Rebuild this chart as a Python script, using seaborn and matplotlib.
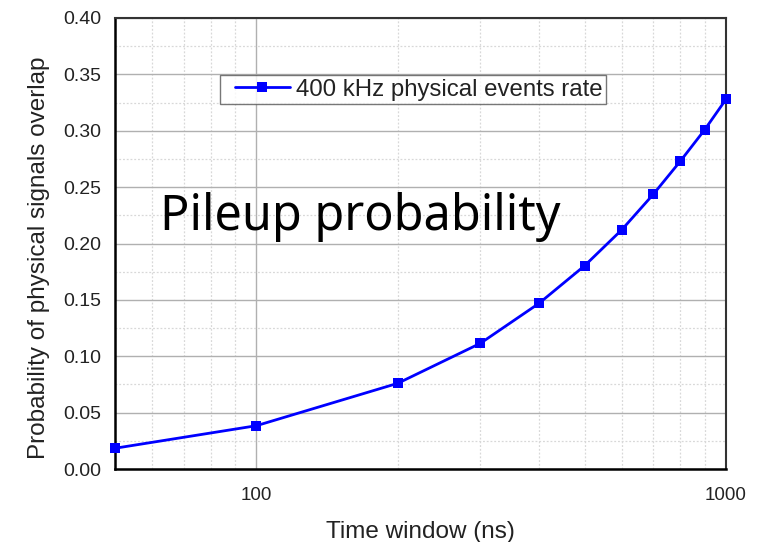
import matplotlib
matplotlib.use("Agg")
import matplotlib.pyplot as plt
import seaborn as sns
import pandas as pd
from matplotlib.ticker import FixedLocator, NullFormatter, MultipleLocator, FuncFormatter
from matplotlib.legend_handler import HandlerLine2D
from matplotlib.lines import Line2D

time_window_ns = [50, 100, 200, 300, 400, 500, 600, 700, 800, 900, 1000]
pileup_prob = [0.0184, 0.0384, 0.0760, 0.1115, 0.1470, 0.1803, 0.2122, 0.2436, 0.2732, 0.3007, 0.3279]
series_label = "400 kHz physical events rate"
x_label = "Time window (ns)"
y_label = "Probability of physical signals overlap"
annotation = "Pileup probability"
x_major_ticks = [100, 1000]
x_minor_ticks = [50, 60, 70, 80, 90, 200, 300, 400, 500, 600, 700, 800, 900]


class PaddedLineHandler(HandlerLine2D):
    """Line handle with a blank gap at its left end, like the Origin legend."""
    def __init__(self, left_pad_px=11.0, **kw):
        super().__init__(**kw)
        self.left_pad_px = left_pad_px

    def get_xdata(self, legend, xdescent, ydescent, width, height, fontsize):
        pad = self.left_pad_px * 72.0 / legend.figure.dpi
        x0 = -xdescent + pad
        x1 = -xdescent + width
        return [x0, x1], [0.5 * (x0 + x1)]


sns.set_style("white")
plt.rcParams['font.family'] = ['Liberation Sans', 'DejaVu Sans']

df = pd.DataFrame({"t": time_window_ns, "p": pileup_prob})

fig = plt.figure(figsize=(7.69, 5.42), dpi=100)
ax = fig.add_axes([115/769, 73/542, 611/769, 451/542])

sns.lineplot(data=df, x="t", y="p", ax=ax, color="#0000ff", marker="s",
             markersize=6.5, markeredgewidth=0, linewidth=2, label=series_label,
             clip_on=False, zorder=5)

ax.set_xscale("log")
ax.set_xlim(50, 1000)
ax.set_ylim(0, 0.40)

ax.xaxis.set_major_locator(FixedLocator(x_major_ticks))
ax.xaxis.set_minor_locator(FixedLocator(x_minor_ticks))
ax.xaxis.set_major_formatter(FuncFormatter(lambda v, p: f"{int(v)}"))
ax.xaxis.set_minor_formatter(NullFormatter())
ax.yaxis.set_major_locator(MultipleLocator(0.05))
ax.yaxis.set_minor_locator(MultipleLocator(0.025))
ax.yaxis.set_major_formatter(FuncFormatter(lambda v, p: f"{v:.2f}"))

ax.grid(which="major", color="#b0b0b0", linestyle="-", linewidth=1.0)
ax.grid(which="minor", color="#d8d8d8", linestyle=(0, (1.5, 1.5)), linewidth=0.9)
ax.set_axisbelow(True)

ax.tick_params(axis="both", which="major", direction="out", length=6, width=1.5,
               color="black", labelcolor="#222222")
ax.tick_params(axis="both", which="minor", direction="out", length=3.5, width=1.5, color="black")
ax.tick_params(axis="x", which="major", pad=7, labelsize=13.5)
ax.tick_params(axis="y", which="major", pad=4, labelsize=14)

for s in ["left", "bottom"]:
    ax.spines[s].set_linewidth(1.8)
    ax.spines[s].set_color("black")
for s in ["top", "right"]:
    ax.spines[s].set_linewidth(1.5)
    ax.spines[s].set_color("#333333")

ax.set_xlabel(x_label, fontsize=17.5, color="#222222", labelpad=12)
ax.set_ylabel(y_label, fontsize=17.5, color="#222222")
ax.yaxis.set_label_coords((50 - 115) / 611, (469 - 258) / 451)

handles, labels = ax.get_legend_handles_labels()
leg = ax.legend(handles, labels, loc="upper left",
                bbox_to_anchor=((220 - 115) / 611, (469 - 75) / 451),
                fontsize=17.3, frameon=True, fancybox=False, borderpad=0.15,
                handlelength=2.77, handletextpad=0.25, borderaxespad=0,
                handler_map={Line2D: PaddedLineHandler(left_pad_px=11.0)})
leg.get_frame().set_edgecolor("#555555")
leg.get_frame().set_linewidth(1.0)
for t in leg.get_texts():
    t.set_color("#222222")

fig.text(160/769, 1 - 230/542, annotation, fontsize=35, family=["Noto Sans", "DejaVu Sans"],
         color="black", ha="left", va="baseline")

fig.savefig("out.png", dpi=100)
